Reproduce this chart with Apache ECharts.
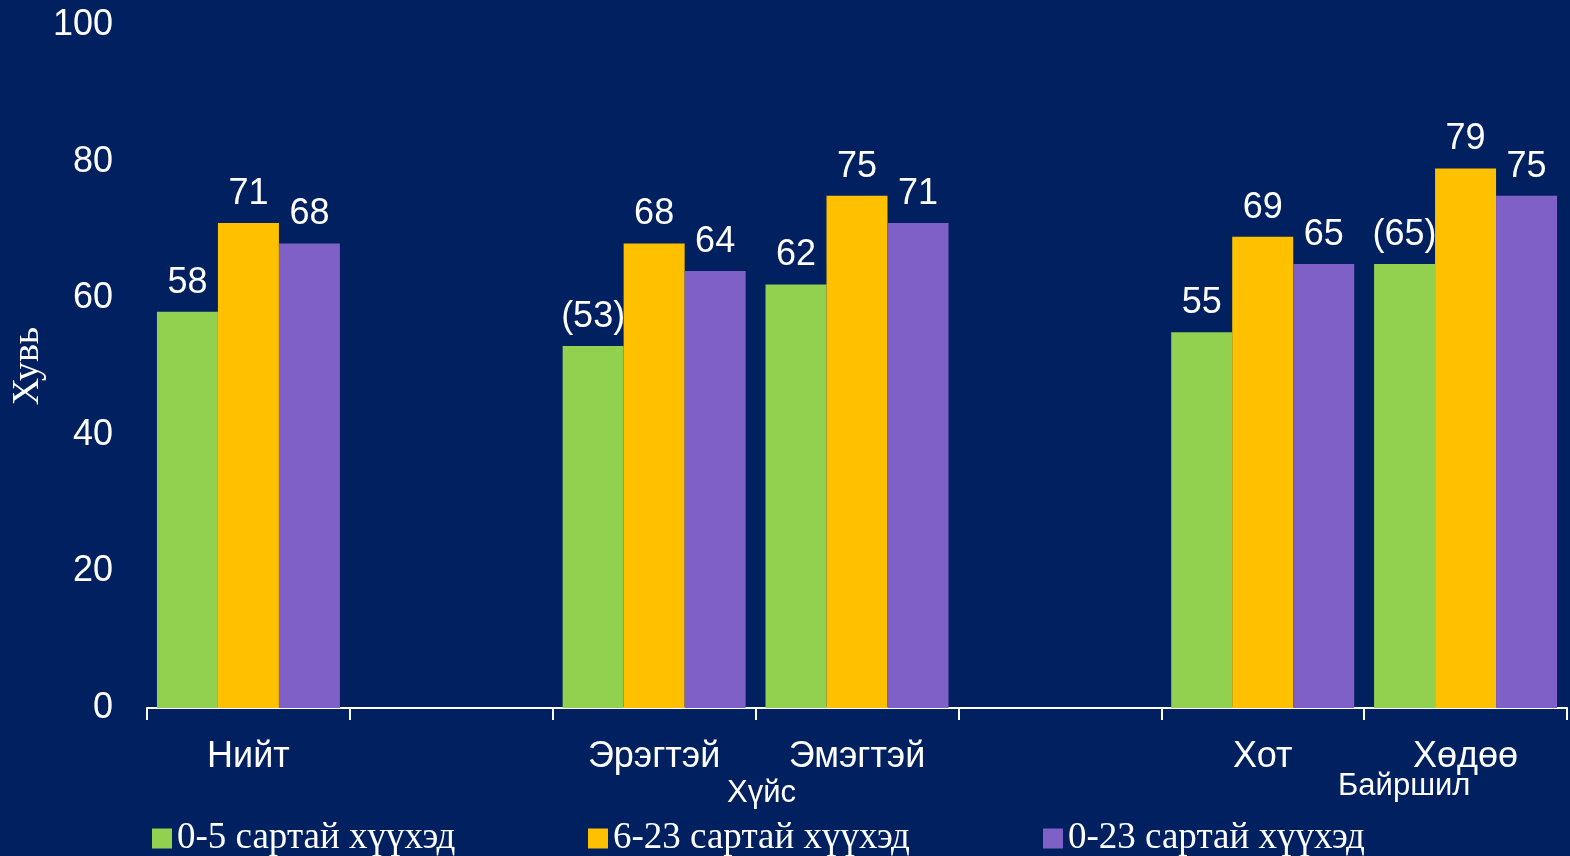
<!DOCTYPE html>
<html>
<head>
<meta charset="utf-8">
<script src="https://cdn.jsdelivr.net/npm/echarts@6/dist/echarts.min.js"></script>
<style>
  html, body { margin: 0; padding: 0; background: #002060; }
  #chart { width: 1570px; height: 856px; }
</style>
</head>
<body>
<div id="chart"></div>
<script>
// categories (blank slots separate the groups)
const categories = ['Нийт', '', 'Эрэгтэй', 'Эмэгтэй', '', 'Хот', 'Хөдөө'];
const seriesNames = ['0-5 сартай хүүхэд', '6-23 сартай хүүхэд', '0-23 сартай хүүхэд'];
const age0to5 = [58, null, 53, 62, null, 55, 65];
const age6to23 = [71, null, 68, 75, null, 69, 79];
const age0to23 = [68, null, 64, 71, null, 65, 75];
// indexes of values shown in brackets in the source (0-5 months only)
const bracketed = [[2, 6], [], []];
const yTicks = [0, 20, 40, 60, 80, 100];

const colors = ['#92D050', '#FFC000', '#7F60C6'];
const sans = 'Liberation Sans, Arial, sans-serif';
const serif = 'Liberation Serif, Times New Roman, serif';

const chart = echarts.init(document.getElementById('chart'));

function makeSeries(i, values) {
  return {
    name: seriesNames[i],
    type: 'bar',
    data: values,
    barWidth: 61,
    barGap: '0%',
    itemStyle: { color: colors[i] },
    label: {
      show: true,
      position: 'top',
      distance: 11,
      color: '#fff',
      fontFamily: sans,
      fontSize: 36,
      formatter: p => bracketed[i].indexOf(p.dataIndex) >= 0 ? '(' + p.value + ')' : String(p.value)
    }
  };
}

const legendBase = {
  bottom: -6,
  icon: 'rect',
  itemWidth: 20,
  itemHeight: 20,
  itemGap: 6,
  textStyle: { color: '#fff', fontFamily: serif, fontSize: 37 }
};

chart.setOption({
  backgroundColor: '#002060',
  animation: false,
  grid: { left: 147, right: 3, top: 25, bottom: 148, outerBoundsMode: 'none' },
  legend: [
    Object.assign({ left: 147, data: [seriesNames[0]] }, legendBase),
    Object.assign({ left: 583, data: [seriesNames[1]] }, legendBase),
    Object.assign({ left: 1038, data: [seriesNames[2]] }, legendBase)
  ],
  xAxis: {
    type: 'category',
    data: categories,
    axisLine: { lineStyle: { color: '#fff', width: 2 } },
    axisTick: { show: true, length: 12, lineStyle: { color: '#fff', width: 2 } },
    axisLabel: { color: '#fff', fontFamily: sans, fontSize: 36, margin: 31, interval: 0 }
  },
  yAxis: {
    type: 'value',
    min: yTicks[0],
    max: yTicks[yTicks.length - 1],
    interval: 20,
    axisLine: { show: false },
    axisTick: { show: false },
    splitLine: { show: false },
    axisLabel: { color: '#fff', fontFamily: sans, fontSize: 36, margin: 34 }
  },
  graphic: [
    // y axis title, rotated to read bottom-to-top
    {
      type: 'text', x: 28, y: 366, rotation: Math.PI / 2,
      style: { text: 'Хувь', fill: '#fff', font: '38px ' + serif, textAlign: 'center', textVerticalAlign: 'middle' }
    },
    { type: 'text', left: 727, top: 778, style: { text: 'Хүйс', fill: '#fff', font: '31px ' + sans } },
    { type: 'text', left: 1338, top: 771, style: { text: 'Байршил', fill: '#fff', font: '31px ' + sans } }
  ],
  series: [makeSeries(0, age0to5), makeSeries(1, age6to23), makeSeries(2, age0to23)]
});
</script>
</body>
</html>
